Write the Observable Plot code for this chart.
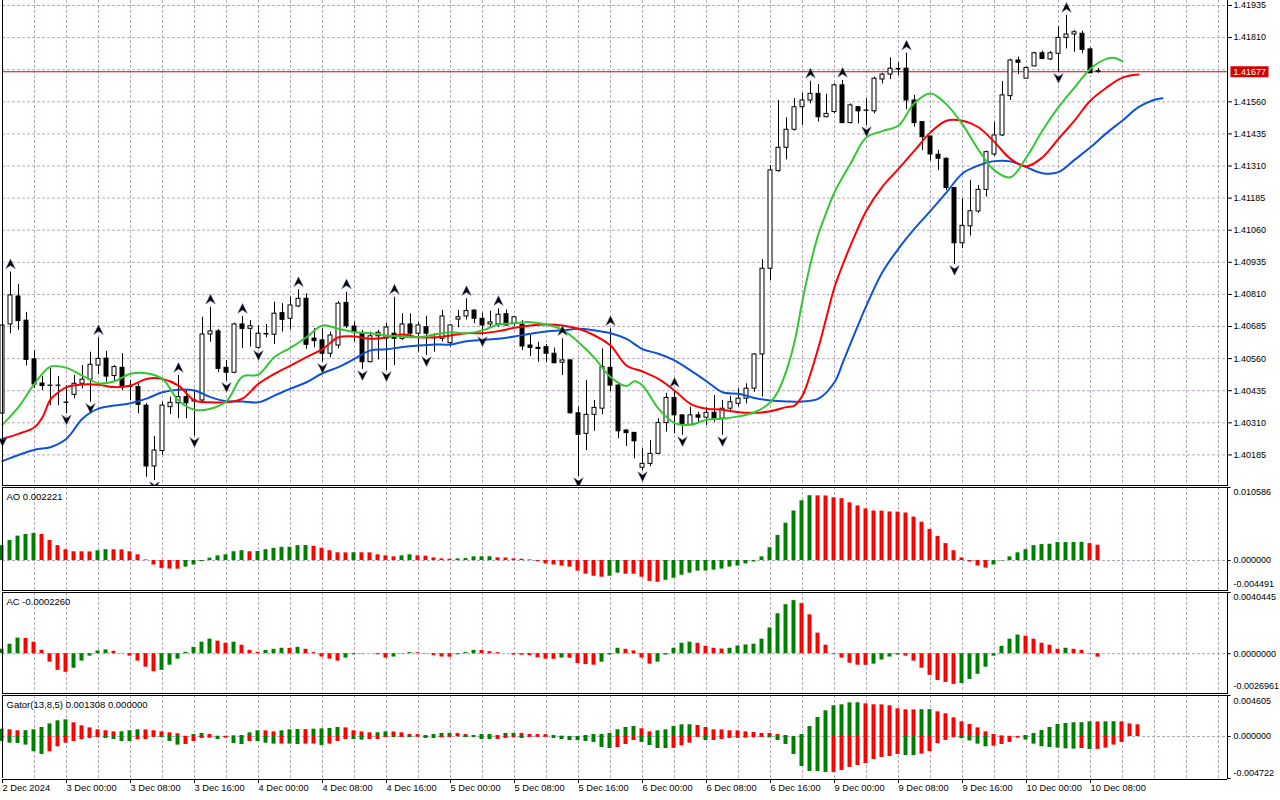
<!DOCTYPE html>
<html>
<head>
<meta charset="utf-8">
<script src="https://cdn.jsdelivr.net/npm/d3@7"></script>
<script src="https://cdn.jsdelivr.net/npm/@observablehq/plot@0.6"></script>
<style>
  html,body{margin:0;padding:0;background:#fff;}
  #chart{position:relative;width:1280px;height:800px;overflow:hidden;background:#fff;}
  #chart svg{position:absolute;left:0;}
</style>
</head>
<body>
<div id="chart"></div>
<script>
// ---------- DATA (H1 candles, index 0 = 2 Dec 2024 16:00) ----------
const openP = [1.40346,1.40693,1.40802,1.40708,1.40557,1.40463,1.40455,1.40454,1.40389,1.40419,
1.40462,1.40478,1.40533,1.40560,1.40492,1.40524,1.40450,1.40449,1.40377,1.40140,
1.40200,1.40371,1.40386,1.40410,1.40393,1.40397,1.40654,1.40666,1.40524,1.40505,
1.40693,1.40676,1.40602,1.40656,1.40653,1.40737,1.40715,1.40763,1.40793,1.40638,
1.40631,1.40579,1.40611,1.40777,1.40685,1.40657,1.40546,1.40647,1.40638,1.40657,
1.40637,1.40693,1.40657,1.40682,1.40640,1.40637,1.40620,1.40712,1.40724,1.40747,
1.40715,1.40693,1.40693,1.40733,1.40696,1.40692,1.40611,1.40602,1.40605,1.40579,
1.40544,1.40553,1.40347,1.40267,1.40341,1.40365,1.40524,1.40455,1.40280,1.40271,
1.40135,1.40150,1.40189,1.40309,1.40407,1.40339,1.40302,1.40339,1.40330,1.40349,
1.40326,1.40365,1.40384,1.40404,1.40443,1.40576,1.40910,1.41290,1.41381,1.41451,
1.41539,1.41565,1.41591,1.41500,1.41520,1.41624,1.41477,1.41539,1.41526,1.41523,
1.41647,1.41666,1.41686,1.41689,1.41565,1.41481,1.41425,1.41354,1.41338,1.41224,
1.41009,1.41075,1.41133,1.41217,1.41355,1.41429,1.41582,1.41721,1.41650,1.41698,
1.41749,1.41725,1.41747,1.41809,1.41822,1.41825,1.41764,1.41679];
const highP = [1.40716,1.40897,1.40849,1.40740,1.40592,1.40490,1.40522,1.40490,1.40455,1.40494,
1.40533,1.40585,1.40641,1.40588,1.40533,1.40579,1.40475,1.40462,1.40385,1.40257,
1.40390,1.40410,1.40494,1.40439,1.40439,1.40721,1.40760,1.40673,1.40553,1.40698,
1.40724,1.40708,1.40689,1.40693,1.40780,1.40774,1.40799,1.40828,1.40812,1.40677,
1.40676,1.40663,1.40782,1.40819,1.40702,1.40670,1.40663,1.40670,1.40697,1.40799,
1.40735,1.40734,1.40700,1.40725,1.40657,1.40747,1.40692,1.40747,1.40793,1.40750,
1.40737,1.40744,1.40754,1.40749,1.40724,1.40708,1.40650,1.40624,1.40615,1.40601,
1.40637,1.40555,1.40371,1.40475,1.40397,1.40598,1.40676,1.40462,1.40283,1.40272,
1.40209,1.40241,1.40326,1.40425,1.40436,1.40340,1.40371,1.40351,1.40369,1.40416,
1.40397,1.40413,1.40443,1.40462,1.40579,1.40945,1.41312,1.41565,1.41498,1.41572,
1.41594,1.41640,1.41627,1.41589,1.41630,1.41643,1.41552,1.41540,1.41572,1.41656,
1.41671,1.41731,1.41712,1.41749,1.41585,1.41481,1.41425,1.41370,1.41342,1.41227,
1.41182,1.41254,1.41234,1.41368,1.41481,1.41639,1.41726,1.41734,1.41695,1.41753,
1.41757,1.41756,1.41853,1.41896,1.41838,1.41835,1.41770,1.41690];
const lowP = [1.40261,1.40657,1.40670,1.40531,1.40444,1.40436,1.40377,1.40377,1.40345,1.40404,
1.40442,1.40390,1.40498,1.40468,1.40468,1.40436,1.40397,1.40345,1.40098,1.40085,
1.40183,1.40342,1.40326,1.40326,1.40258,1.40390,1.40624,1.40506,1.40472,1.40501,
1.40599,1.40605,1.40596,1.40641,1.40615,1.40663,1.40672,1.40758,1.40596,1.40602,
1.40546,1.40563,1.40598,1.40677,1.40624,1.40518,1.40544,1.40555,1.40514,1.40533,
1.40631,1.40637,1.40585,1.40572,1.40585,1.40624,1.40605,1.40680,1.40711,1.40696,
1.40650,1.40681,1.40682,1.40685,1.40685,1.40592,1.40568,1.40546,1.40546,1.40540,
1.40494,1.40345,1.40101,1.40202,1.40277,1.40341,1.40431,1.40248,1.40218,1.40170,
1.40124,1.40140,1.40188,1.40274,1.40267,1.40261,1.40300,1.40312,1.40300,1.40312,
1.40261,1.40358,1.40371,1.40384,1.40429,1.40410,1.40864,1.41286,1.41334,1.41446,
1.41468,1.41552,1.41481,1.41498,1.41513,1.41476,1.41474,1.41474,1.41468,1.41513,
1.41630,1.41647,1.41662,1.41529,1.41461,1.41370,1.41329,1.41293,1.41215,1.40927,
1.40988,1.41037,1.41125,1.41189,1.41347,1.41425,1.41565,1.41666,1.41649,1.41697,
1.41724,1.41721,1.41675,1.41766,1.41753,1.41747,1.41670,1.41671];
const closeP = [1.40689,1.40806,1.40706,1.40555,1.40459,1.40453,1.40454,1.40455,1.40388,1.40462,
1.40478,1.40536,1.40559,1.40490,1.40527,1.40451,1.40449,1.40380,1.40140,1.40202,
1.40377,1.40388,1.40410,1.40386,1.40397,1.40654,1.40666,1.40520,1.40505,1.40693,
1.40676,1.40686,1.40657,1.40654,1.40735,1.40711,1.40767,1.40793,1.40614,1.40628,
1.40579,1.40650,1.40774,1.40686,1.40663,1.40546,1.40647,1.40661,1.40681,1.40637,
1.40693,1.40657,1.40689,1.40657,1.40639,1.40724,1.40689,1.40721,1.40745,1.40715,
1.40689,1.40701,1.40731,1.40689,1.40721,1.40607,1.40602,1.40598,1.40579,1.40542,
1.40553,1.40347,1.40263,1.40341,1.40368,1.40527,1.40455,1.40277,1.40270,1.40238,
1.40150,1.40189,1.40309,1.40407,1.40339,1.40302,1.40339,1.40330,1.40349,1.40326,
1.40365,1.40390,1.40404,1.40443,1.40576,1.40910,1.41293,1.41381,1.41451,1.41539,
1.41565,1.41591,1.41500,1.41513,1.41624,1.41477,1.41546,1.41523,1.41525,1.41650,
1.41666,1.41689,1.41688,1.41565,1.41477,1.41422,1.41355,1.41338,1.41224,1.41009,
1.41077,1.41134,1.41217,1.41364,1.41429,1.41585,1.41721,1.41712,1.41692,1.41749,
1.41727,1.41749,1.41809,1.41822,1.41831,1.41762,1.41671,1.41677];

const currentPrice = 1.41677;

// Bill Williams fractals (bar indices)
const upFractals = [1,12,22,26,30,37,43,49,58,62,70,76,84,101,105,113,133];
const downFractals = [0,8,11,19,24,28,32,40,45,48,53,60,72,80,85,90,108,119,132];

// Alligator lines, [bar index (shifted), price]
const jaw = [[0,1.40161],[4,1.40205],[6,1.40215],[8,1.40248],[10,1.40326],[12,1.40365],[14,1.40377],[16,1.40386],[18,1.40404],[20,1.40429],[22,1.40439],[24,1.40436],[26,1.40410],[28,1.40394],[30,1.40393],[32,1.40390],[34,1.40416],[36,1.40443],[38,1.40468],[40,1.40503],[42,1.40527],[44,1.40559],[46,1.40592],[48,1.40596],[50,1.40605],[52,1.40611],[54,1.40615],[56,1.40615],[58,1.40628],[60,1.40633],[62,1.40637],[64,1.40646],[66,1.40657],[68,1.40666],[70,1.40670],[72,1.40676],[74,1.40670],[76,1.40659],[78,1.40637],[80,1.40597],[82,1.40579],[84,1.40553],[86,1.40514],[88,1.40472],[90,1.40429],[92,1.40423],[94,1.40407],[96,1.40397],[98,1.40393],[100,1.40393],[102,1.40404],[104,1.40468],[105,1.40541],[106,1.40618],[108,1.40767],[110,1.40897],[112,1.40988],[114,1.41066],[116,1.41135],[118,1.41207],[120,1.41281],[122,1.41312],[124,1.41329],[126,1.41328],[128,1.41305],[130,1.41282],[132,1.41286],[134,1.41334],[136,1.41383],[138,1.41438],[140,1.41487],[142,1.41539],[144,1.41568],[145,1.41574]];
const teeth = [[0,1.40248],[2,1.40267],[4,1.40293],[5,1.40332],[6,1.40401],[7,1.40429],[8,1.40449],[10,1.40459],[12,1.40458],[14,1.40449],[16,1.40455],[18,1.40481],[20,1.40481],[22,1.40455],[24,1.40397],[26,1.40390],[28,1.40390],[30,1.40404],[32,1.40462],[34,1.40501],[36,1.40533],[38,1.40566],[40,1.40597],[42,1.40643],[44,1.40646],[46,1.40637],[48,1.40643],[50,1.40654],[52,1.40643],[54,1.40643],[56,1.40650],[58,1.40659],[60,1.40659],[62,1.40667],[64,1.40680],[66,1.40689],[68,1.40693],[70,1.40689],[72,1.40676],[74,1.40650],[76,1.40611],[78,1.40533],[80,1.40510],[82,1.40481],[84,1.40436],[86,1.40384],[88,1.40365],[90,1.40361],[92,1.40351],[94,1.40349],[96,1.40355],[98,1.40371],[99,1.40377],[100,1.40416],[101,1.40501],[102,1.40604],[103,1.40721],[104,1.40838],[105,1.40923],[106,1.41000],[108,1.41137],[110,1.41230],[112,1.41299],[114,1.41370],[116,1.41441],[118,1.41486],[120,1.41486],[122,1.41461],[124,1.41403],[126,1.41338],[128,1.41309],[130,1.41344],[132,1.41416],[134,1.41487],[136,1.41565],[138,1.41615],[140,1.41654],[142,1.41666]];
const lips = [[0,1.40303],[2,1.40371],[4,1.40462],[6,1.40529],[8,1.40524],[10,1.40494],[12,1.40464],[14,1.40472],[16,1.40501],[18,1.40503],[20,1.40481],[22,1.40397],[24,1.40361],[26,1.40365],[28,1.40394],[30,1.40490],[32,1.40498],[34,1.40566],[36,1.40602],[38,1.40643],[40,1.40689],[42,1.40676],[44,1.40663],[46,1.40659],[48,1.40650],[50,1.40646],[52,1.40643],[54,1.40654],[56,1.40663],[58,1.40659],[60,1.40670],[62,1.40693],[64,1.40698],[66,1.40702],[68,1.40693],[70,1.40672],[72,1.40624],[74,1.40563],[76,1.40488],[78,1.40453],[79,1.40472],[80,1.40455],[82,1.40365],[84,1.40309],[86,1.40302],[88,1.40322],[90,1.40326],[92,1.40335],[94,1.40351],[96,1.40390],[97,1.40436],[98,1.40514],[99,1.40624],[100,1.40786],[101,1.40929],[102,1.41046],[103,1.41130],[104,1.41208],[106,1.41319],[108,1.41422],[110,1.41446],[112,1.41468],[114,1.41555],[116,1.41592],[118,1.41550],[120,1.41472],[122,1.41373],[124,1.41293],[126,1.41266],[128,1.41344],[130,1.41448],[132,1.41539],[134,1.41615],[136,1.41689],[138,1.41727],[139,1.41731],[140,1.41718]];

// Awesome Oscillator
const aoValues = [0.00216,0.00290,0.00354,0.00378,0.00393,0.00378,0.00290,0.00216,0.00157,0.00127,
0.00126,0.00125,0.00142,0.00157,0.00156,0.00154,0.00127,0.00083,0.00009,-0.00065,
-0.00114,-0.00124,-0.00126,-0.00095,-0.00065,-0.00016,0.00034,0.00068,0.00083,0.00127,
0.00142,0.00127,0.00131,0.00157,0.00176,0.00191,0.00192,0.00216,0.00217,0.00206,
0.00176,0.00142,0.00112,0.00111,0.00113,0.00112,0.00111,0.00083,0.00068,0.00053,
0.00068,0.00083,0.00068,0.00063,0.00038,0.00024,0.00019,0.00024,0.00029,0.00053,
0.00054,0.00055,0.00038,0.00037,0.00024,0.00019,0.00009,-0.00016,-0.00050,-0.00065,
-0.00080,-0.00095,-0.00154,-0.00198,-0.00228,-0.00242,-0.00228,-0.00183,-0.00198,-0.00199,
-0.00242,-0.00302,-0.00316,-0.00287,-0.00257,-0.00213,-0.00183,-0.00154,-0.00153,-0.00139,
-0.00124,-0.00095,-0.00080,-0.00050,-0.00021,0.00053,0.00186,0.00364,0.00541,0.00718,
0.00866,0.00940,0.00938,0.00936,0.00910,0.00896,0.00837,0.00793,0.00748,0.00718,
0.00716,0.00704,0.00702,0.00689,0.00630,0.00556,0.00452,0.00349,0.00245,0.00142,
0.00038,-0.00020,-0.00080,-0.00109,-0.00065,-0.00006,0.00053,0.00112,0.00157,0.00216,
0.00231,0.00236,0.00260,0.00261,0.00262,0.00265,0.00245,0.002221];

// Accelerator Oscillator
const acValues = [0.00030,0.00063,0.00103,0.00101,0.00076,0.00022,-0.00056,-0.00110,-0.00123,-0.00096,
-0.00049,-0.00016,0.00018,0.00025,0.00016,0.00002,-0.00016,-0.00049,-0.00089,-0.00119,
-0.00110,-0.00076,-0.00036,0.00009,0.00042,0.00076,0.00096,0.00083,0.00069,0.00076,
0.00056,0.00022,0.00009,0.00022,0.00029,0.00036,0.00035,0.00042,0.00029,0.00007,
-0.00022,-0.00036,-0.00049,-0.00029,-0.00007,-0.00002,0.00000,-0.00007,-0.00029,-0.00022,
-0.00002,0.00007,0.00006,-0.00002,-0.00013,-0.00022,-0.00023,-0.00007,0.00007,0.00022,
0.00021,0.00013,0.00007,0.00000,-0.00009,-0.00010,-0.00013,-0.00027,-0.00036,-0.00037,
-0.00029,-0.00030,-0.00065,-0.00072,-0.00076,-0.00056,-0.00009,0.00036,0.00029,0.00018,
-0.00029,-0.00069,-0.00056,-0.00009,0.00036,0.00069,0.00076,0.00069,0.00049,0.00036,
0.00031,0.00036,0.00051,0.00058,0.00063,0.00096,0.00170,0.00264,0.00324,0.00351,
0.00331,0.00257,0.00136,0.00056,-0.00004,-0.00029,-0.00063,-0.00076,-0.00077,-0.00069,
-0.00042,-0.00022,-0.00009,-0.00016,-0.00049,-0.00096,-0.00143,-0.00177,-0.00190,-0.00203,
-0.00197,-0.00170,-0.00136,-0.00089,-0.00016,0.00049,0.00096,0.00123,0.00116,0.00096,
0.00069,0.00056,0.00029,0.00036,0.00029,0.00022,-0.00002,-0.000226];

// Gator oscillator (upper = |jaw-teeth|, lower = -|teeth-lips|)
const gatorUpper = [0.00082,0.00075,0.00064,0.00065,0.00075,0.00101,0.00142,0.00176,0.00187,0.00154,
0.00120,0.00097,0.00075,0.00064,0.00052,0.00053,0.00064,0.00075,0.00074,0.00064,
0.00052,0.00041,0.00030,0.00002,0.00022,0.00034,0.00022,0.00003,0.00002,0.00007,
0.00011,0.00041,0.00064,0.00063,0.00052,0.00064,0.00075,0.00079,0.00078,0.00082,
0.00086,0.00090,0.00101,0.00097,0.00064,0.00052,0.00041,0.00042,0.00052,0.00051,
0.00041,0.00022,0.00021,0.00011,0.00022,0.00034,0.00035,0.00033,0.00022,0.00011,
0.00022,0.00023,0.00011,0.00034,0.00035,0.00033,0.00022,0.00021,0.00020,0.00011,
0.00004,0.00001,0.000005,0.00011,0.00022,0.00023,0.00034,0.00075,0.00101,0.00112,
0.00086,0.00052,0.00064,0.00075,0.00112,0.00131,0.00132,0.00124,0.00101,0.00075,
0.00074,0.00064,0.00063,0.00052,0.00045,0.00034,0.00033,0.00022,0.00011,0.00001,
0.00022,0.00112,0.00214,0.00289,0.00345,0.00356,0.00378,0.00379,0.00367,0.00356,
0.00355,0.00345,0.00311,0.00300,0.00299,0.00301,0.00302,0.00277,0.00255,0.00210,
0.00165,0.00135,0.00097,0.00052,0.00022,0.00007,0.00002,0.00001,0.00011,0.00034,
0.00067,0.00101,0.00135,0.00146,0.00154,0.00155,0.00165,0.00164,0.00165,0.00166,
0.00164,0.00142,0.001308];
const gatorLower = [-0.00056,-0.00075,-0.00079,-0.00097,-0.00172,-0.00202,-0.00172,-0.00116,-0.00075,-0.00056,
-0.00037,-0.00022,-0.00011,-0.00022,-0.00034,-0.00056,-0.00057,-0.00037,-0.00036,-0.00011,
-0.00012,-0.00056,-0.00097,-0.00090,-0.00056,-0.00022,-0.00019,-0.00034,-0.00019,-0.00079,
-0.00090,-0.00056,-0.00057,-0.00075,-0.00086,-0.00085,-0.00086,-0.00090,-0.00086,-0.00085,
-0.00101,-0.00086,-0.00056,-0.00034,-0.00035,-0.00041,-0.00034,-0.00033,-0.00011,-0.00012,
-0.00011,-0.00012,-0.00008,-0.00022,-0.00023,-0.00015,-0.00011,-0.00004,-0.00011,-0.00012,
-0.00034,-0.00035,-0.00033,-0.00022,-0.00015,-0.00022,-0.00011,-0.00010,-0.00009,-0.00022,
-0.00034,-0.00045,-0.00046,-0.00056,-0.00067,-0.00124,-0.00135,-0.00124,-0.00090,-0.00045,
-0.00067,-0.00101,-0.00135,-0.00136,-0.00134,-0.00105,-0.00075,-0.00011,-0.00045,-0.00044,
-0.00034,-0.00022,-0.00021,-0.00019,-0.00015,-0.00011,-0.00015,-0.00045,-0.00090,-0.00202,
-0.00337,-0.00393,-0.00394,-0.00405,-0.00404,-0.00382,-0.00348,-0.00326,-0.00304,-0.00259,
-0.00236,-0.00225,-0.00202,-0.00214,-0.00215,-0.00199,-0.00169,-0.00080,-0.00045,-0.00015,
-0.00025,-0.00050,-0.00086,-0.00116,-0.00109,-0.00090,-0.00067,-0.00019,-0.00041,-0.00086,
-0.00116,-0.00124,-0.00131,-0.00139,-0.00142,-0.00135,-0.00146,-0.00145,-0.00131,-0.00097,
-0.00067];

// Axis ticks / labels
const priceTicks = [1.41935,1.41810,1.41685,1.41560,1.41435,1.41310,1.41185,1.41060,1.40935,1.40810,1.40685,1.40560,1.40435,1.40310,1.40185];
const priceLabels = [1.41935,1.41810,1.41560,1.41435,1.41310,1.41185,1.41060,1.40935,1.40810,1.40685,1.40560,1.40435,1.40310,1.40185];
const timeLabelIdx = [0,8,16,24,32,40,48,56,64,72,80,88,96,104,112,120,128,136];
const timeLabels = ["2 Dec 2024","3 Dec 00:00","3 Dec 08:00","3 Dec 16:00","4 Dec 00:00","4 Dec 08:00","4 Dec 16:00","5 Dec 00:00","5 Dec 08:00","5 Dec 16:00","6 Dec 00:00","6 Dec 08:00","6 Dec 16:00","9 Dec 00:00","9 Dec 08:00","9 Dec 16:00","10 Dec 00:00","10 Dec 08:00"];
const aoRange = [-0.004491, 0.010586];
const acRange = [-0.0026961, 0.0040445];
const gatorRange = [-0.004722, 0.004605];
const priceRange = [1.40062, 1.419545];

// ---------- RENDER ----------
const K0 = 0, K1 = 153.125;
const FONT = '"Liberation Sans", Arial, Helvetica, sans-serif';
const STYLE = {background: "transparent", fontFamily: FONT, fontSize: "9px", color: "#000"};
const GRID = "#b9aabb", DASH = "3,2", ZEROC = "#a4a8b8";
const UP = "#008000", DOWN = "#ff0000";
const gridK = d3.range(0, 153, 4);
const chart = document.getElementById("chart");

const candles = openP.map((o, k) => ({k, open: o, high: highP[k], low: lowP[k], close: closeP[k]}));

const upArrow = {draw(ctx, size) {
  const s = Math.sqrt(size / Math.PI);
  ctx.moveTo(0, -s); ctx.lineTo(0.95 * s, 0.95 * s); ctx.lineTo(0, 0.3 * s); ctx.lineTo(-0.95 * s, 0.95 * s); ctx.closePath();
}};
const downArrow = {draw(ctx, size) {
  const s = Math.sqrt(size / Math.PI);
  ctx.moveTo(0, s); ctx.lineTo(0.95 * s, -0.95 * s); ctx.lineTo(0, -0.3 * s); ctx.lineTo(-0.95 * s, -0.95 * s); ctx.closePath();
}};
const priceBox = {draw(ctx) { ctx.rect(-19, -5.5, 38, 11); }};

function place(svg, top) { svg.style.top = top + "px"; chart.appendChild(svg); }

// Main price pane
const mainPlot = Plot.plot({
  width: 1280, height: 486, marginLeft: 2, marginRight: 53, marginTop: 0, marginBottom: 0,
  x: {domain: [K0, K1], axis: null},
  y: {domain: priceRange, axis: null, label: null},
  style: STYLE,
  marks: [
    Plot.ruleY(priceTicks, {stroke: GRID, strokeDasharray: DASH}),
    Plot.ruleX(gridK, {stroke: GRID, strokeDasharray: DASH}),
    Plot.ruleY([currentPrice], {stroke: "#e00000"}),
    Plot.ruleX(candles, {x: "k", y1: "low", y2: "high", stroke: "#000"}),
    Plot.rect(candles, {x1: d => d.k - 0.25, x2: d => d.k + 0.25, y1: "open", y2: "close",
      fill: d => d.close >= d.open ? "#fff" : "#000", stroke: "#000"}),
    Plot.line(jaw, {x: d => d[0], y: d => d[1], stroke: "#0d52d8", strokeWidth: 2, curve: "catmull-rom"}),
    Plot.line(teeth, {x: d => d[0], y: d => d[1], stroke: "#ff0000", strokeWidth: 2, curve: "catmull-rom"}),
    Plot.line(lips, {x: d => d[0], y: d => d[1], stroke: "#33c733", strokeWidth: 2, curve: "catmull-rom"}),
    Plot.dot(upFractals, {x: k => k, y: k => highP[k], symbol: upArrow, r: 5, fill: "#000", stroke: "#5a6f9a", strokeWidth: 0.5, dy: -8}),
    Plot.dot(downFractals, {x: k => k, y: k => lowP[k], symbol: downArrow, r: 5, fill: "#000", stroke: "#5a6f9a", strokeWidth: 0.5, dy: 6}),
    Plot.ruleX([K0, K1], {stroke: "#000"}),
    Plot.ruleY([priceRange[0]], {stroke: "#000", dy: -1}),
    Plot.axisY(priceLabels, {anchor: "right", tickSize: 4, tickPadding: 2, tickFormat: d => d.toFixed(5), fontSize: 9, label: null}),
    Plot.dot([{k: K1, v: currentPrice}], {x: "k", y: "v", symbol: priceBox, r: 1, fill: "#d40000", dx: 22}),
    Plot.text([{k: K1, v: currentPrice}], {x: "k", y: "v", text: d => d.v.toFixed(5), dx: 6, textAnchor: "start", fill: "#fff", fontSize: 9})
  ]
});
place(mainPlot, 0);

function colorize(values, mag) {
  return values.map((v, k) => {
    const cur = mag ? Math.abs(v) : v, prev = k === 0 ? -Infinity : (mag ? Math.abs(values[k - 1]) : values[k - 1]);
    return {k, v, c: cur > prev ? UP : DOWN};
  });
}

function subPane({top, height, marginBottom = 0, domain, series, title, labels, bottomBorder = true}) {
  const marks = [
    Plot.ruleX(gridK, {stroke: GRID, strokeDasharray: DASH}),
    Plot.ruleY([0], {stroke: ZEROC, strokeDasharray: DASH}),
    ...series.map(s => Plot.rect(s, {x1: d => d.k - 0.25, x2: d => d.k + 0.25, y1: () => 0, y2: d => d.v, fill: d => d.c, dx: -0.5})),
    Plot.ruleX([K0, K1], {stroke: "#000"}),
    Plot.ruleY([domain[1]], {stroke: "#000"}),
    Plot.text([title], {frameAnchor: "top-left", text: d => d, dx: 4, dy: 9, lineAnchor: "middle", textAnchor: "start", fontSize: 9.5}),
    Plot.ruleY(labels, {y: d => d.v, x1: () => K1, x2: () => K1 + 0.45, stroke: "#000"}),
    ...labels.map(l => Plot.text([l], {x: () => K1, y: d => d.v, text: d => d.t, dx: 6, dy: l.dy, lineAnchor: "middle", textAnchor: "start", fontSize: 9}))
  ];
  if (bottomBorder) marks.push(Plot.ruleY([domain[0]], {stroke: "#000", dy: -1}));
  const p = Plot.plot({
    width: 1280, height, marginLeft: 2, marginRight: 53, marginTop: 0, marginBottom,
    x: {domain: [K0, K1], axis: null},
    y: {domain, axis: null, label: null},
    style: STYLE,
    marks
  });
  place(p, top);
}

subPane({
  top: 487, height: 104, domain: aoRange,
  series: [colorize(aoValues, false)],
  title: "AO " + aoValues[aoValues.length - 1].toFixed(6),
  labels: [{v: aoRange[1], t: aoRange[1].toFixed(6), dy: 5}, {v: 0, t: "0.000000", dy: 0}, {v: aoRange[0], t: aoRange[0].toFixed(6), dy: -7}]
});
subPane({
  top: 592, height: 102, domain: acRange,
  series: [colorize(acValues, false)],
  title: "AC " + acValues[acValues.length - 1].toFixed(7),
  labels: [{v: acRange[1], t: acRange[1].toFixed(7), dy: 5}, {v: 0, t: "0.0000000", dy: 0}, {v: acRange[0], t: acRange[0].toFixed(7), dy: -8}]
});
subPane({
  top: 695, height: 84, marginBottom: 1, domain: gatorRange, bottomBorder: false,
  series: [colorize(gatorUpper, true), colorize(gatorLower, true)],
  title: "Gator(13,8,5) " + gatorUpper[gatorUpper.length - 1].toFixed(6) + " 0.000000",
  labels: [{v: gatorRange[1], t: gatorRange[1].toFixed(6), dy: 6}, {v: 0, t: "0.000000", dy: 0}, {v: gatorRange[0], t: gatorRange[0].toFixed(6), dy: -5}]
});

// Time axis
const xAxisPlot = Plot.plot({
  width: 1280, height: 21, marginLeft: 2, marginRight: 53, marginTop: 0, marginBottom: 20,
  x: {domain: [K0, K1], axis: null, label: null},
  y: {domain: [0, 1], axis: null},
  style: STYLE,
  marks: [
    Plot.ruleY([1], {stroke: "#000"}),
    Plot.axisX(timeLabelIdx, {anchor: "bottom", tickSize: 3, tickPadding: 1, textAnchor: "start",
      tickFormat: d => timeLabels[timeLabelIdx.indexOf(d)], fontSize: 9.3, label: null})
  ]
});
place(xAxisPlot, 779);
</script>
</body>
</html>
